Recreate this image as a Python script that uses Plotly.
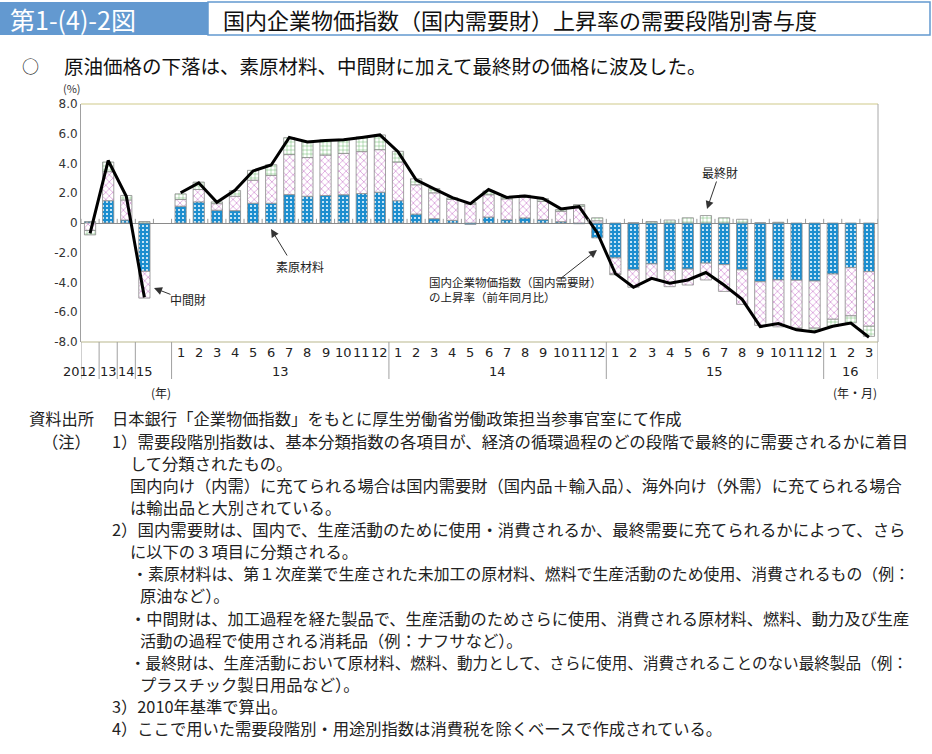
import plotly.graph_objects as go

# ---------------- data ----------------
annual_labels = ["2012", "13", "14", "15"]
year_labels = ["13", "14", "15", "16"]
months_per_year = [12, 12, 12, 3]
month_labels = [str(m) for m in range(1, 13)] * 3 + ["1", "2", "3"]

raw_annual = [0.10, 1.50, 0.20, -3.25]      # 素原材料
mid_annual = [-0.50, 1.95, 1.35, -1.80]     # 中間財
fin_annual = [-0.30, 0.65, 0.30, 0.10]      # 最終財
total_annual = [-0.70, 4.20, 1.80, -5.00]   # 上昇率

raw_monthly = [1.13, 1.42, 0.86, 0.83, 1.33, 1.33, 1.91, 1.80, 1.85, 1.90, 1.98, 2.07,
               1.50, 0.60, 0.29, 0.18, -0.09, 0.40, 0.22, 0.34, 0.22, 0.09, -0.05, -1.00,
               -2.35, -3.15, -2.75, -3.20, -3.10, -2.70, -2.80, -3.15, -3.95, -3.83, -3.85, -3.90,
               -3.43, -3.00, -3.27]
mid_monthly = [0.45, 0.83, 0.44, 0.97, 1.55, 1.87, 2.69, 2.60, 2.72, 2.78, 2.82, 2.86,
               2.60, 1.97, 1.74, 1.40, 1.28, 1.50, 1.40, 1.41, 1.24, 0.70, 1.13, 0.15,
               -1.08, -1.17, -1.03, -1.08, -1.07, -1.13, -1.80, -2.32, -2.93, -3.15, -3.22, -3.17,
               -3.04, -3.24, -3.67]
fin_monthly = [0.38, 0.50, 0.12, 0.38, 0.66, 0.72, 1.14, 1.10, 1.03, 0.95, 0.99, 0.99,
               0.72, 0.40, 0.29, 0.11, 0.09, 0.25, 0.13, 0.12, 0.18, 0.11, 0.11, 0.20,
               -0.05, 0.00, 0.10, 0.20, 0.35, 0.50, 0.35, 0.25, 0.00, 0.05, -0.05, -0.20,
               -0.47, -0.47, -0.68]
total_monthly = [2.03, 2.70, 1.40, 2.20, 3.50, 3.90, 5.75, 5.45, 5.55, 5.60, 5.75, 5.92,
                 4.80, 2.90, 2.30, 1.70, 1.30, 2.25, 1.72, 1.82, 1.65, 0.95, 1.10, -0.65,
                 -3.40, -4.32, -3.72, -4.05, -3.83, -3.33, -4.17, -5.13, -6.96, -6.76, -7.18, -7.32,
                 -6.94, -6.73, -7.68]

y_ticks = [-8, -6, -4, -2, 0, 2, 4, 6, 8]
y_tick_text = ["-8.0", "-6.0", "-4.0", "-2.0", "0", "2.0", "4.0", "6.0", "8.0"]

# ---------------- layout geometry ----------------
W, H = 932, 754
L, R, T, B = 81, 878, 104, 342


def px(x):
    return (x - L) / (R - L)


def py(y):
    return (B - y) / (B - T)


n_ann = len(annual_labels)
x_ann = list(range(n_ann))
x_mon = [n_ann + 1 + i for i in range(len(month_labels))]
n_slots = n_ann + 1 + len(month_labels)

x_all = x_ann + x_mon
raw_all = raw_annual + raw_monthly
mid_all = mid_annual + mid_monthly
fin_all = fin_annual + fin_monthly

FONT = "Noto Sans CJK JP"
NUMFONT = "DejaVu Sans"

fig = go.Figure()
line_style = dict(color="#8c8c8c", width=0.8)
fig.add_trace(go.Bar(
    x=x_all, y=raw_all, name="素原材料",
    marker=dict(color="#1c8ecf", line=line_style,
                pattern=dict(shape=".", bgcolor="#1c8ecf", fgcolor="#f0faff",
                             size=4, solidity=0.22, fillmode="replace")),
))
fig.add_trace(go.Bar(
    x=x_all, y=mid_all, name="中間財",
    marker=dict(color="white", line=line_style,
                pattern=dict(shape="x", bgcolor="white", fgcolor="#c46ac6",
                             size=5, solidity=0.2, fillmode="replace")),
))
fig.add_trace(go.Bar(
    x=x_all, y=fin_all, name="最終財",
    marker=dict(color="white", line=line_style,
                pattern=dict(shape="+", bgcolor="white", fgcolor="#5aae5a",
                             size=4, solidity=0.2, fillmode="replace")),
))
fig.add_trace(go.Scatter(x=x_ann, y=total_annual, mode="lines",
                         line=dict(color="black", width=3), name="上昇率"))
fig.add_trace(go.Scatter(x=x_mon, y=total_monthly, mode="lines",
                         line=dict(color="black", width=3), name="上昇率 月次",
                         showlegend=False))

shapes = []
# plot frame
shapes.append(dict(type="line", xref="paper", yref="paper", x0=0, x1=1, y0=1, y1=1,
                   line=dict(color="#cfc98a", width=1.2)))
shapes.append(dict(type="line", xref="paper", yref="paper", x0=0, x1=1, y0=0, y1=0,
                   line=dict(color="#b9b88e", width=1.2)))
shapes.append(dict(type="line", xref="paper", yref="paper", x0=1, x1=1, y0=0, y1=1,
                   line=dict(color="#a8a8a8", width=1)))
# small ticks on zero line between slots
for k in range(n_slots + 1):
    shapes.append(dict(type="line", xref="x", yref="y", x0=k - 0.5, x1=k - 0.5,
                       y0=0, y1=0.28, line=dict(color="#9a9a9a", width=1)))
# separators below axis
bounds = [-0.5 + i for i in range(n_ann)] + [n_ann + 0.5]
acc = n_ann + 0.5
for m in months_per_year:
    acc += m
    bounds.append(acc)
for bx in bounds:
    shapes.append(dict(type="line", xref="x", yref="paper", x0=bx, x1=bx,
                       y0=0, y1=py(379), line=dict(color="#a0a0a0", width=1)))
# header
shapes.append(dict(type="rect", xref="paper", yref="paper", x0=px(0), x1=px(208),
                   y0=py(2), y1=py(35), fillcolor="#6399d0", line=dict(width=0)))
shapes.append(dict(type="rect", xref="paper", yref="paper", x0=px(208), x1=px(930),
                   y0=py(2), y1=py(35), fillcolor="white",
                   line=dict(color="#6399d0", width=1.5)))

ann = []


def txt(x, y, text, size, family=FONT, xanchor="center", xref="paper", color="#222"):
    ann.append(dict(x=x if xref != "paper" else px(x), y=py(y), xref=xref, yref="paper",
                    text=text, showarrow=False, xanchor=xanchor, yanchor="middle",
                    align="left", font=dict(family=family, size=size, color=color)))


# month labels
for xi, lab in zip(x_mon, month_labels):
    txt(xi, 352, lab, 13, NUMFONT, xref="x")
# annual labels
for xi, lab in zip(x_ann, annual_labels):
    if lab == "2012":
        txt(xi + 0.42, 371, lab, 13, NUMFONT, xanchor="right", xref="x")
    else:
        txt(xi, 371, lab, 13, NUMFONT, xref="x")
# year group labels
start = n_ann + 1
for lab, m in zip(year_labels, months_per_year):
    txt(start + (m - 1) / 2, 371, lab, 13, NUMFONT, xref="x")
    start += m
txt(161, 392, "(年)", 12)
txt(855, 392, "(年・月)", 12)
txt(72, 88, "(%)", 11, color="#333")


def arrow(tail, tip):
    ann.append(dict(x=px(tip[0]), y=py(tip[1]), xref="paper", yref="paper", text="",
                    showarrow=True, axref="pixel", ayref="pixel",
                    ax=tail[0] - tip[0], ay=tail[1] - tip[1],
                    arrowhead=2, arrowsize=1.6, arrowwidth=1, arrowcolor="#333"))


txt(300, 266, "素原材料", 12)
arrow((288, 257), (271, 229))
txt(168, 299, "中間財", 12, xanchor="left")
arrow((172, 295), (154, 288))
txt(427, 289, "国内企業物価指数（国内需要財）<br>の上昇率（前年同月比）", 11.5, xanchor="left")
arrow((560, 279), (597, 250))
txt(720, 172, "最終財", 12)
arrow((717, 180), (707, 209))

# header texts
txt(8, 19, "第1-(4)-2図", 25, xanchor="left", color="white")
txt(221, 19, "国内企業物価指数（国内需要財）上昇率の需要段階別寄与度", 22,
    xanchor="left", color="#111")
txt(31, 66, "○", 17)
txt(62, 66, "原油価格の下落は、素原材料、中間財に加えて最終財の価格に波及した。", 19.5,
    xanchor="left", color="#111")

# notes: (left x, y, text, justified-to-right-edge)
BASE = 16.3
RIGHT = 908
notes = [
    (110, 418, "日本銀行「企業物価指数」をもとに厚生労働省労働政策担当参事官室にて作成", False),
    (110, 441, "1）需要段階別指数は、基本分類指数の各項目が、経済の循環過程のどの段階で最終的に需要されるかに着目", True),
    (128, 463, "して分類されたもの。", False),
    (128, 485, "国内向け（内需）に充てられる場合は国内需要財（国内品＋輸入品）、海外向け（外需）に充てられる場合", True),
    (128, 507, "は輸出品と大別されている。", False),
    (110, 529, "2）国内需要財は、国内で、生産活動のために使用・消費されるか、最終需要に充てられるかによって、さら", True),
    (128, 551, "に以下の３項目に分類される。", False),
    (130, 573, "・素原材料は、第１次産業で生産された未加工の原材料、燃料で生産活動のため使用、消費されるもの（例：", True),
    (138, 595, "原油など）。", False),
    (128, 618, "・中間財は、加工過程を経た製品で、生産活動のためさらに使用、消費される原材料、燃料、動力及び生産", True),
    (138, 640, "活動の過程で使用される消耗品（例：ナフサなど）。", False),
    (128, 662, "・最終財は、生産活動において原材料、燃料、動力として、さらに使用、消費されることのない最終製品（例：", True),
    (138, 684, "プラスチック製日用品など）。", False),
    (110, 706, "3）2010年基準で算出。", False),
    (110, 728, "4）ここで用いた需要段階別・用途別指数は消費税を除くベースで作成されている。", False),
]


def em_width(s):
    return sum(0.6 if ord(c) < 128 else 1.0 for c in s)


txt(27, 418, "資料出所", BASE, xanchor="left")
txt(93, 441, "（注）", BASE, xanchor="right")
for nx, ny, t, just in notes:
    size = min(BASE + 0.4, (RIGHT - nx) / em_width(t)) if just else BASE
    txt(nx, ny, t, round(size, 2), xanchor="left")

fig.update_layout(
    width=W, height=H, autosize=False,
    margin=dict(l=L, r=W - R, t=T, b=H - B, pad=0),
    paper_bgcolor="white", plot_bgcolor="white",
    barmode="relative", bargap=0.38,
    showlegend=False,
    shapes=shapes, annotations=ann,
    xaxis=dict(range=[-0.5, n_slots - 0.5], showticklabels=False, showgrid=False,
               zeroline=False, showline=False, ticks=""),
    yaxis=dict(range=[-8, 8], tickvals=y_ticks, ticktext=y_tick_text, showgrid=False,
               zeroline=True, zerolinecolor="#8a8a8a", zerolinewidth=1,
               showline=True, linecolor="#a0a0a0", linewidth=1, ticks="",
               tickfont=dict(family=NUMFONT, size=12, color="#333")),
)

fig.write_html("out.html", config={"displayModeBar": False},
               post_script="document.body.style.margin='0px';document.body.style.overflow='hidden';")
